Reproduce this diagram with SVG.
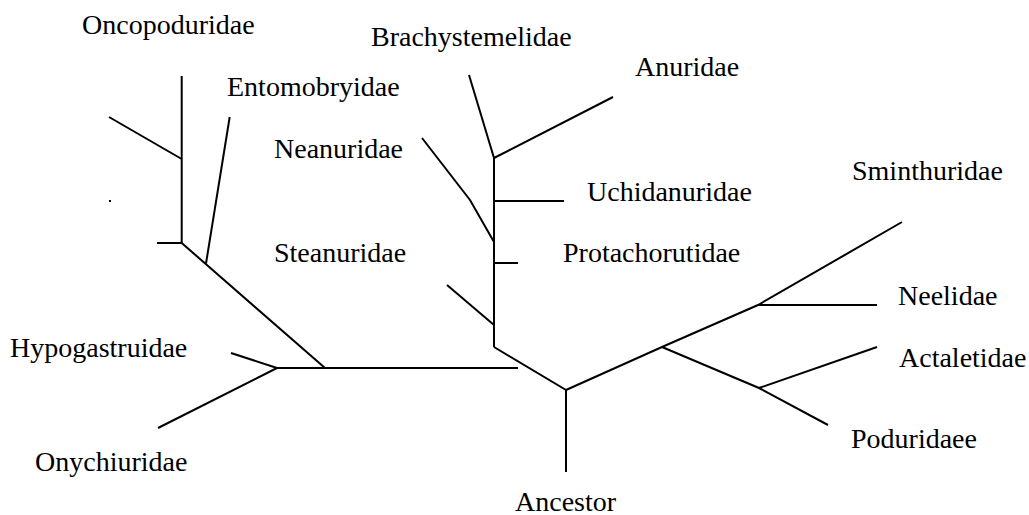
<svg xmlns="http://www.w3.org/2000/svg" width="1029" height="515" viewBox="0 0 1029 515">
<style>
.lbl{font-family:"Liberation Serif","Times New Roman",serif;font-size:28px;fill:#000}
.e{fill:none;stroke:#000;stroke-width:2;stroke-linejoin:miter;stroke-linecap:butt}
</style>
<rect width="1029" height="515" fill="#fff"/>
<g id="connectors">
<line class="e" x1="181.7" y1="76" x2="181.7" y2="243"/>
<line class="e" x1="109" y1="117" x2="181.7" y2="159"/>
<line class="e" x1="157" y1="243" x2="181.7" y2="243"/>
<line class="e" x1="181.7" y1="243" x2="325" y2="368"/>
<line class="e" x1="229.7" y1="117" x2="206" y2="263.5"/>
<line class="e" x1="231" y1="353" x2="277" y2="368"/>
<line class="e" x1="277" y1="368" x2="518" y2="368"/>
<line class="e" x1="277" y1="368" x2="158" y2="428"/>
<line class="e" x1="469" y1="75" x2="494" y2="158"/>
<line class="e" x1="494" y1="158" x2="613" y2="97"/>
<line class="e" x1="494" y1="158" x2="494" y2="347"/>
<line class="e" x1="494" y1="201" x2="564" y2="201"/>
<polyline class="e" points="422,138 470,200 494,242"/>
<line class="e" x1="494" y1="263" x2="518" y2="263"/>
<line class="e" x1="447" y1="285" x2="494" y2="325"/>
<polyline class="e" points="494,347 566,390 566,472"/>
<polyline class="e" points="566,390 662,347 758,305 902,222"/>
<line class="e" x1="758" y1="305" x2="877" y2="305"/>
<polyline class="e" points="662,347 759,388 828,425"/>
<line class="e" x1="759" y1="388" x2="877" y2="347"/>
<rect x="109" y="200" width="2" height="2" fill="#000"/>
</g>
<g id="n-oncopoduridae"><text class="lbl" x="82" y="34">Oncopoduridae</text></g>
<g id="n-brachystemelidae"><text class="lbl" x="371" y="46">Brachystemelidae</text></g>
<g id="n-entomobryidae"><text class="lbl" x="227" y="96">Entomobryidae</text></g>
<g id="n-anuridae"><text class="lbl" x="635" y="76">Anuridae</text></g>
<g id="n-neanuridae"><text class="lbl" x="274" y="158">Neanuridae</text></g>
<g id="n-uchidanuridae"><text class="lbl" x="587" y="201">Uchidanuridae</text></g>
<g id="n-sminthuridae"><text class="lbl" x="852" y="180">Sminthuridae</text></g>
<g id="n-steanuridae"><text class="lbl" x="274" y="262">Steanuridae</text></g>
<g id="n-protachorutidae"><text class="lbl" x="563" y="262">Protachorutidae</text></g>
<g id="n-neelidae"><text class="lbl" x="898" y="305">Neelidae</text></g>
<g id="n-hypogastruidae"><text class="lbl" x="10" y="357">Hypogastruidae</text></g>
<g id="n-actaletidae"><text class="lbl" x="899" y="367">Actaletidae</text></g>
<g id="n-poduridaee"><text class="lbl" x="851" y="448">Poduridaee</text></g>
<g id="n-onychiuridae"><text class="lbl" x="35" y="471">Onychiuridae</text></g>
<g id="n-ancestor"><text class="lbl" x="515" y="511">Ancestor</text></g>
</svg>
